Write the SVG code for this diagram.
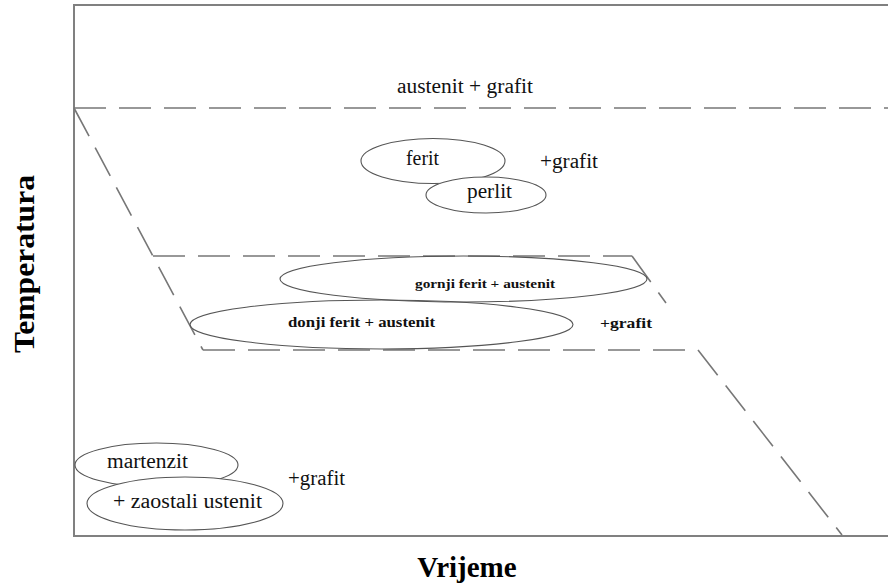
<svg xmlns="http://www.w3.org/2000/svg" width="888" height="586" viewBox="0 0 888 586">
<style>
.frame{fill:none;stroke:#808080;stroke-width:2}
.dash{fill:none;stroke:#777;stroke-width:1.6;stroke-dasharray:32 13}
.ell{fill:none;stroke:#555;stroke-width:1.1}
.ellw{fill:#fff;stroke:#555;stroke-width:1.1}
text{font-family:'Liberation Serif','Times New Roman',Times,serif}
.t{fill:#111;font-size:20px}
.tb{fill:#111;font-weight:bold}
.ax{fill:#000;font-weight:bold;font-size:29px}
</style>
<rect width="888" height="586" fill="#fff"/>
<g id="frame">
<polyline class="frame" points="890,5 74,5 74,536 890,536"/>
</g>
<g id="connectors">
<line class="dash" x1="74" y1="108" x2="888" y2="108"/>
<line class="dash" x1="74" y1="108" x2="203" y2="350"/>
<line class="dash" x1="153" y1="256" x2="632" y2="256"/>
<line class="dash" x1="632" y1="256" x2="666" y2="303"/>
<line class="dash" x1="203" y1="350" x2="698" y2="350"/>
<line class="dash" x1="698" y1="350" x2="842" y2="535"/>
</g>
<g id="label-austenit">
<text class="t" x="397" y="93" textLength="136" lengthAdjust="spacingAndGlyphs">austenit + grafit</text>
</g>
<g id="node-ferit">
<ellipse class="ell" cx="433" cy="161" rx="72" ry="22.5"/>
<text class="t" x="406" y="165" textLength="33" lengthAdjust="spacingAndGlyphs">ferit</text>
</g>
<g id="node-perlit">
<ellipse class="ellw" cx="486" cy="195" rx="60" ry="18"/>
<text class="t" x="467" y="198" textLength="45" lengthAdjust="spacingAndGlyphs">perlit</text>
</g>
<g id="label-grafit1">
<text class="t" x="540" y="168" textLength="58" lengthAdjust="spacingAndGlyphs">+grafit</text>
</g>
<g id="node-gornji">
<ellipse class="ell" cx="463.5" cy="279" rx="183.5" ry="23"/>
<text class="tb" x="415" y="288" font-size="13" textLength="140" lengthAdjust="spacingAndGlyphs">gornji  ferit + austenit</text>
</g>
<g id="node-donji">
<ellipse class="ell" cx="381.5" cy="324.5" rx="191.5" ry="24.5"/>
<text class="tb" x="288" y="327" font-size="14" textLength="147" lengthAdjust="spacingAndGlyphs">donji  ferit + austenit</text>
</g>
<g id="label-grafit2">
<text class="tb" x="600" y="328" font-size="15" textLength="52" lengthAdjust="spacingAndGlyphs">+grafit</text>
</g>
<g id="node-martenzit">
<ellipse class="ell" cx="156.5" cy="465" rx="81.5" ry="22"/>
<text class="t" x="107" y="468" textLength="81" lengthAdjust="spacingAndGlyphs">martenzit</text>
</g>
<g id="node-zaostali">
<ellipse class="ellw" cx="185" cy="503.5" rx="98" ry="26.5"/>
<text class="t" x="113" y="508" textLength="149" lengthAdjust="spacingAndGlyphs">+ zaostali ustenit</text>
</g>
<g id="label-grafit3">
<text class="t" x="288" y="485" textLength="57" lengthAdjust="spacingAndGlyphs">+grafit</text>
</g>
<g id="axis-y">
<text class="ax" font-size="30" transform="translate(34,353) rotate(-90)" textLength="178" lengthAdjust="spacingAndGlyphs">Temperatura</text>
</g>
<g id="axis-x">
<text class="ax" x="467" y="577" text-anchor="middle">Vrijeme</text>
</g>
</svg>
